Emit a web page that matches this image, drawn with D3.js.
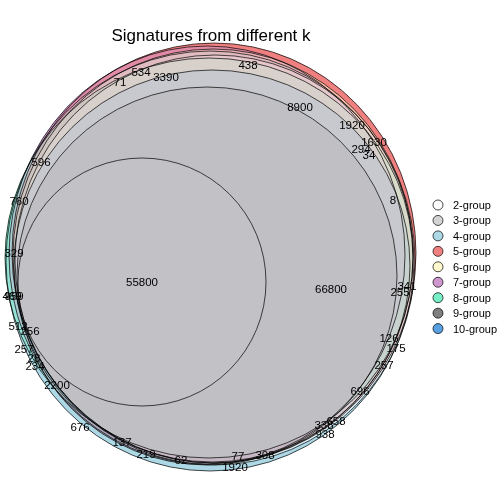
<!DOCTYPE html>
<html>
<head>
<meta charset="utf-8">
<script src="https://cdn.jsdelivr.net/npm/d3@7"></script>
<style>
  body { margin: 0; background: #fff; }
  #chart { position: relative; width: 504px; height: 504px; }
  #chart canvas, #chart svg { position: absolute; left: 0; top: 0; }
</style>
</head>
<body>
<div id="chart"></div>
<script>
// sets and colours
var setNames = ["2-group", "3-group", "4-group", "5-group", "6-group", "7-group", "8-group", "9-group", "10-group"];
var setColors = ["#FFFFFF", "#D3D3D3", "#ADD8E6", "#F08080", "#FFFACD", "#CD96CD", "#76EEC6", "#7F7F7F", "#58A0E0"];

// ellipse fits (diagram units), one per set
var ellCx = [4.5, -68.5, -0.5, 3.5, 2.5, -3.5, -1.5, -3.5, 1.5];
var ellCy = [-3.5, -25.5, -4.5, 3.5, 0.5, 1.5, -1.5, -19.5, -9.5];
var ellRx = [200, 124, 204, 202, 200, 198, 204, 190, 198];
var ellRy = [205, 124, 210, 210, 207, 209, 200, 189, 196];

// region quantities and where they sit (diagram units)
var labelText = ["55800", "66800", "8900", "3390", "534", "71", "438", "1920", "1630", "294", "34", "8",
  "341", "255", "126", "175", "257", "696", "338", "658", "938", "308", "77", "1920", "62", "219",
  "137", "676", "2200", "234", "28", "257", "256", "512", "469", "959", "329", "760", "596"];
var labelX = [-68.5, 120.5, 89.5, -44.5, -69.5, -90.5, 37.5, 141.5, 163.5, 150.5, 158.5, 182.5,
  196.5, 189.5, 178.5, 185.5, 173.5, 149.5, 113.5, 125.5, 114.5, 54.5, 27.5, 24.5, -29.5, -64.5,
  -88.5, -130.5, -153.5, -175.5, -176.5, -186.5, -180.5, -192.5, -198.5, -196.5, -196.5, -191.5, -169.5];
var labelY = [-25.5, -32.5, 149.5, 179.5, 184.5, 174.5, 191.5, 131.5, 114.5, 107.5, 101.5, 56.5,
  -29.5, -35.5, -81.5, -91.5, -108.5, -134.5, -168.5, -164.5, -177.5, -198.5, -199.5, -210.5, -203.5, -197.5,
  -185.5, -170.5, -128.5, -109.5, -101.5, -92.5, -74.5, -69.5, -39.5, -39.5, 3.5, 55.5, 94.5];

var W = 504, H = 504;
var font = "'Liberation Sans', Arial, Helvetica, sans-serif";

// equal-aspect scales for the diagram
var x = d3.scaleLinear().domain([-205.5, 205.5]).range([5, 416]);
var y = d3.scaleLinear().domain([205.5, -205.5]).range([51, 462]);
var kx = x(1) - x(0), ky = y(0) - y(1);

var sets = setNames.map(function(n, i) {
  return { name: n, color: setColors[i], lab: d3.lab(setColors[i]),
           cx: ellCx[i], cy: ellCy[i], rx: ellRx[i], ry: ellRy[i] };
});

// region fills: each pixel gets the Lab mean of the sets that contain it
var ss = 2;
var canvas = d3.select("#chart").append("canvas")
  .attr("width", W * ss).attr("height", H * ss)
  .style("width", W + "px").style("height", H + "px");
var ctx = canvas.node().getContext("2d");
var img = ctx.createImageData(W * ss, H * ss);
var cache = {};
for (var py = 0; py < H * ss; py++) {
  var v = y.invert((py + 0.5) / ss);
  for (var px = 0; px < W * ss; px++) {
    var u = x.invert((px + 0.5) / ss);
    var key = 0;
    sets.forEach(function(s, i) {
      var dx = (u - s.cx) / s.rx, dy = (v - s.cy) / s.ry;
      if (dx * dx + dy * dy <= 1) key |= (1 << i);
    });
    if (!(key in cache)) {
      var L = 0, A = 0, B = 0, n = 0;
      sets.forEach(function(s, i) {
        if (key & (1 << i)) { L += s.lab.l; A += s.lab.a; B += s.lab.b; n++; }
      });
      cache[key] = n ? d3.rgb(d3.lab(L / n, A / n, B / n)) : d3.rgb(255, 255, 255);
    }
    var c = cache[key];
    var o = (py * W * ss + px) * 4;
    img.data[o] = c.r; img.data[o + 1] = c.g; img.data[o + 2] = c.b; img.data[o + 3] = 255;
  }
}
ctx.putImageData(img, 0, 0);

var svg = d3.select("#chart").append("svg")
  .attr("width", W).attr("height", H);

// ellipse outlines
svg.append("g").selectAll("ellipse")
  .data(sets)
  .enter()
  .append("ellipse")
  .attr("cx", d => x(d.cx))
  .attr("cy", d => y(d.cy))
  .attr("rx", d => d.rx * kx)
  .attr("ry", d => d.ry * ky)
  .attr("fill", "none")
  .attr("stroke", "#000")
  .attr("stroke-width", 0.7);

// quantities
svg.append("g").selectAll("text")
  .data(labelText)
  .enter()
  .append("text")
  .attr("x", (d, i) => x(labelX[i]))
  .attr("y", (d, i) => y(labelY[i]))
  .attr("text-anchor", "middle")
  .attr("dominant-baseline", "central")
  .attr("font-family", font)
  .attr("font-size", "11.5px")
  .attr("fill", "#000")
  .text(d => d);

// title
svg.append("text")
  .attr("x", 211)
  .attr("y", 41)
  .attr("text-anchor", "middle")
  .attr("font-family", font)
  .attr("font-size", "17px")
  .attr("fill", "#000")
  .text("Signatures from different k");

// legend
var legend = svg.append("g").attr("transform", "translate(438, 205)");
var item = legend.selectAll("g")
  .data(sets)
  .enter()
  .append("g")
  .attr("transform", (d, i) => `translate(0, ${i * 15.45})`);
item.append("circle")
  .attr("r", 5)
  .attr("fill", d => d.color)
  .attr("stroke", "#000")
  .attr("stroke-width", 0.7);
item.append("text")
  .attr("x", 15)
  .attr("dominant-baseline", "central")
  .attr("font-family", font)
  .attr("font-size", "11px")
  .attr("fill", "#000")
  .text(d => d.name);
</script>
</body>
</html>
